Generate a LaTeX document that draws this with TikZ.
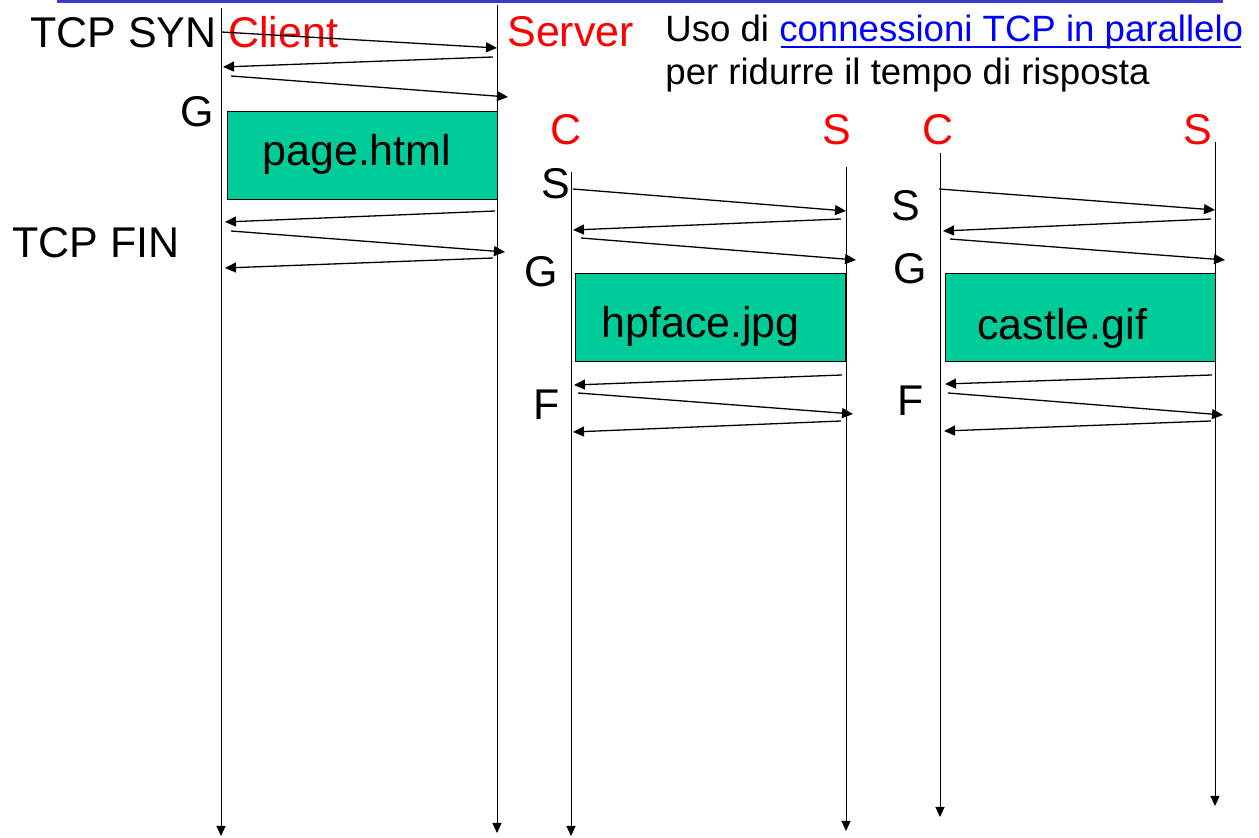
\documentclass[tikz,border=0pt]{standalone}
\usepackage{fontspec}
\setmainfont{Liberation Sans}
\usetikzlibrary{arrows.meta}

\definecolor{boxgreen}{RGB}{0,204,153}
\definecolor{rulecol}{RGB}{60,60,204}
\definecolor{linkcol}{RGB}{0,0,255}

\tikzset{
  lifeline/.style={line width=0.5pt, -{Triangle[length=5pt,width=4.5pt]}},
  msg/.style={line width=0.65pt, -{Triangle[length=5.5pt,width=5pt]}},
  payload/.style={draw, fill=boxgreen, line width=0.5pt, minimum width=135pt, minimum height=44pt, inner sep=0pt},
  big/.style={inner sep=0pt, anchor=base west, font=\fontsize{21.5}{25}\selectfont},
  small/.style={inner sep=0pt, anchor=base west, font=\fontsize{18.3}{22}\selectfont},
  actor/.style={big, text=red},
}

\begin{document}
\begin{tikzpicture}[x=0.5pt, y=-0.5pt]
        \useasboundingbox (0,0) rectangle (1259,838);
        \draw[rulecol, line width=1.5pt] (57,1.5) -- (1223,1.5);

        % lifelines
        \coordinate (cli top) at (221,8);   \coordinate (cli end) at (221,836);
        \coordinate (srv top) at (497,5);   \coordinate (srv end) at (497,833);
        \coordinate (c2 top) at (571,172);  \coordinate (c2 end) at (571,836);
        \coordinate (s2 top) at (846,167);  \coordinate (s2 end) at (846,831);
        \coordinate (c3 top) at (940,153);  \coordinate (c3 end) at (940,817);
        \coordinate (s3 top) at (1215,142); \coordinate (s3 end) at (1215,806);
        \draw[lifeline] (cli top) -- (cli end);
        \draw[lifeline] (srv top) -- (srv end);
        \draw[lifeline] (c2 top) -- (c2 end);
        \draw[lifeline] (s2 top) -- (s2 end);
        \draw[lifeline] (c3 top) -- (c3 end);
        \draw[lifeline] (s3 top) -- (s3 end);

        % data
        \node[payload] (page) at (362,156) {};
        \node[payload] (face) at (710.5,318) {};
        \node[payload] (castle) at (1080,318) {};
        \node[big] (page txt) at (262,166) {page.html};
        \node[big] (face txt) at (601,338) {hpface.jpg};
        \node[big] (castle txt) at (977,340) {castle.gif};

        % labels
        \node[big] (syn) at (30,48) {TCP SYN};
        \node[big] (fin) at (12,258) {TCP FIN};
        \node[actor] (client) at (228,48) {Client};
        \node[actor] (server) at (507,47) {Server};
        \node[small] (title1) at (665,42) {Uso di \textcolor{linkcol}{connessioni TCP in parallelo}};
        \draw[linkcol, line width=1pt] (781,47) -- (1241,47);
        \node[small] (title2) at (665,85) {per ridurre il tempo di risposta};
        \node[big] (get1) at (180,127) {G};
        \node[actor] (c2) at (550,145) {C};
        \node[actor] (s2) at (822,145) {S};
        \node[actor] (c3) at (922,145) {C};
        \node[actor] (s3) at (1183,145) {S};
        \node[big] (syn2) at (541,199) {S};
        \node[big] (get2) at (524,287) {G};
        \node[big] (fin2) at (533,420) {F};
        \node[big] (syn3) at (891,221) {S};
        \node[big] (get3) at (893,284) {G};
        \node[big] (fin3) at (897,416) {F};

        % messages, first connection
        \draw[msg] (221,32) -- (497,48);
        \draw[msg] (493,57) -- (223,67);
        \draw[msg] (231,76) -- (508,97);
        \draw[msg] (495,211) -- (225,222);
        \draw[msg] (231,231) -- (505,252);
        \draw[msg] (493,258) -- (225,268);
        % second connection
        \draw[msg] (573,189) -- (846,211);
        \draw[msg] (841,219) -- (573,230);
        \draw[msg] (581,238) -- (856,260);
        \draw[msg] (842,375) -- (574,385);
        \draw[msg] (578,393) -- (853,414);
        \draw[msg] (841,421) -- (573,432);
        % third connection
        \draw[msg] (939,189) -- (1215,210);
        \draw[msg] (1211,219) -- (943,231);
        \draw[msg] (950,239) -- (1225,260);
        \draw[msg] (1212,375) -- (945,384);
        \draw[msg] (948,393) -- (1223,415);
        \draw[msg] (1211,421) -- (944,431);
    \end{tikzpicture}
\end{document}
